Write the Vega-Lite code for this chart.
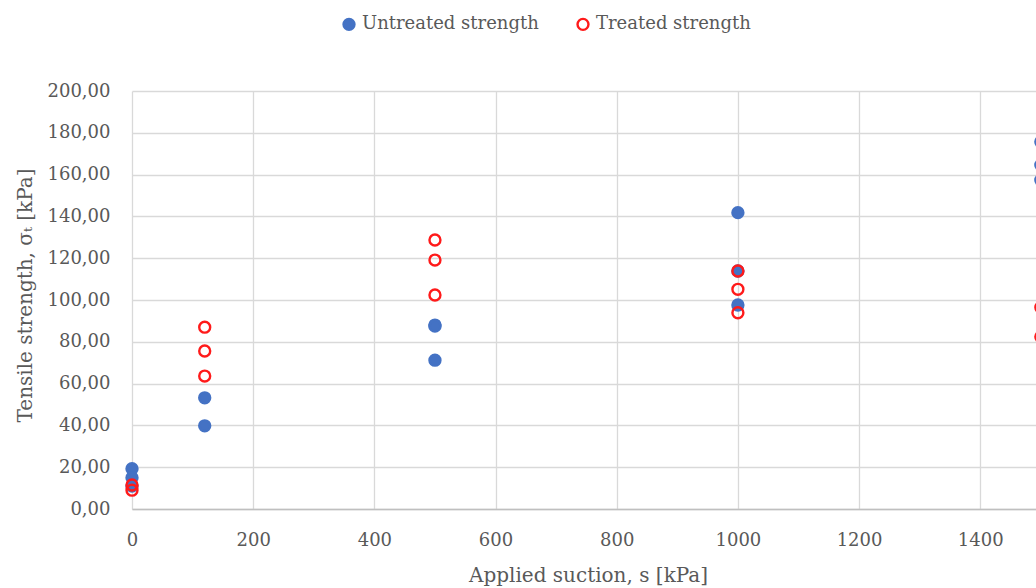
{
  "$schema": "https://vega.github.io/schema/vega-lite/v6.json",
  "width": 904,
  "height": 418,
  "autosize": {"type": "none"},
  "padding": {"left": 132, "top": 91, "right": 0, "bottom": 79},
  "background": "white",
  "config": {
    "locale": {"number": {"decimal": ",", "thousands": ".", "grouping": [3], "currency": ["", " €"]}},
    "view": {"stroke": null},
    "font": "DejaVu Serif",
    "axis": {
      "labelFont": "DejaVu Serif",
      "labelFontSize": 18,
      "labelColor": "#595959",
      "titleFont": "DejaVu Serif",
      "titleFontSize": 20,
      "titleFontWeight": "normal",
      "titleColor": "#595959",
      "gridColor": "#D9D9D9",
      "gridWidth": 1.3,
      "ticks": false,
      "tickSize": 0,
      "labelFlush": false
    }
  },
  "data": {
    "values": [
      {"suction": 0, "strength": 19.3, "series": "Untreated strength"},
      {"suction": 0, "strength": 15.0, "series": "Untreated strength"},
      {"suction": 0, "strength": 11.0, "series": "Untreated strength"},
      {"suction": 120, "strength": 53.2, "series": "Untreated strength"},
      {"suction": 120, "strength": 39.8, "series": "Untreated strength"},
      {"suction": 500, "strength": 88.0, "series": "Untreated strength"},
      {"suction": 500, "strength": 87.5, "series": "Untreated strength"},
      {"suction": 500, "strength": 71.2, "series": "Untreated strength"},
      {"suction": 1000, "strength": 141.8, "series": "Untreated strength"},
      {"suction": 1000, "strength": 113.9, "series": "Untreated strength"},
      {"suction": 1000, "strength": 97.6, "series": "Untreated strength"},
      {"suction": 1500, "strength": 175.7, "series": "Untreated strength"},
      {"suction": 1500, "strength": 164.6, "series": "Untreated strength"},
      {"suction": 1500, "strength": 157.4, "series": "Untreated strength"},
      {"suction": 0, "strength": 11.5, "series": "Treated strength"},
      {"suction": 0, "strength": 9.0, "series": "Treated strength"},
      {"suction": 120, "strength": 87.0, "series": "Treated strength"},
      {"suction": 120, "strength": 75.6, "series": "Treated strength"},
      {"suction": 120, "strength": 63.6, "series": "Treated strength"},
      {"suction": 500, "strength": 128.7, "series": "Treated strength"},
      {"suction": 500, "strength": 119.1, "series": "Treated strength"},
      {"suction": 500, "strength": 102.4, "series": "Treated strength"},
      {"suction": 1000, "strength": 113.9, "series": "Treated strength"},
      {"suction": 1000, "strength": 105.1, "series": "Treated strength"},
      {"suction": 1000, "strength": 93.9, "series": "Treated strength"},
      {"suction": 1500, "strength": 96.5, "series": "Treated strength"},
      {"suction": 1500, "strength": 82.4, "series": "Treated strength"}
    ]
  },
  "mark": {"type": "point", "shape": "circle", "size": 120, "strokeWidth": 2.4, "opacity": 1, "clip": false},
  "encoding": {
    "x": {
      "field": "suction",
      "type": "quantitative",
      "scale": {"domain": [0, 1492], "nice": false, "zero": true},
      "axis": {
        "values": [0, 200, 400, 600, 800, 1000, 1200, 1400],
        "format": "d",
        "title": "Applied suction, s [kPa]",
        "domainColor": "#BFBFBF",
        "domainWidth": 1.3,
        "labelPadding": 31,
        "labelBaseline": "middle",
        "titleX": 456,
        "titleY": 66,
        "titleAlign": "center",
        "titleBaseline": "middle",
        "titleAnchor": null
      }
    },
    "y": {
      "field": "strength",
      "type": "quantitative",
      "scale": {"domain": [0, 200], "nice": false},
      "axis": {
        "values": [0, 20, 40, 60, 80, 100, 120, 140, 160, 180, 200],
        "format": ".2f",
        "title": "Tensile strength, σₜ [kPa]",
        "domain": false,
        "labelPadding": 22,
        "titleAngle": -90,
        "titleX": -107,
        "titleY": 204,
        "titleAlign": "center",
        "titleBaseline": "middle"
      }
    },
    "stroke": {
      "field": "series",
      "type": "nominal",
      "scale": {"domain": ["Untreated strength", "Treated strength"], "range": ["#4472C4", "#FF1A1A"]},
      "legend": {
        "title": null,
        "orient": "none",
        "direction": "horizontal",
        "legendX": 208,
        "legendY": -76,
        "labelFont": "DejaVu Serif",
        "labelFontSize": 18,
        "labelColor": "#595959",
        "labelOffset": 4,
        "labelLimit": 0,
        "symbolSize": 120,
        "symbolStrokeWidth": 2.4,
        "columnPadding": 33
      }
    },
    "fill": {
      "field": "series",
      "type": "nominal",
      "scale": {"domain": ["Untreated strength", "Treated strength"], "range": ["#4472C4", "transparent"]},
      "legend": {
        "title": null,
        "orient": "none",
        "direction": "horizontal",
        "legendX": 208,
        "legendY": -76,
        "labelFont": "DejaVu Serif",
        "labelFontSize": 18,
        "labelColor": "#595959",
        "labelOffset": 4,
        "labelLimit": 0,
        "symbolSize": 120,
        "symbolStrokeWidth": 2.4,
        "columnPadding": 33
      }
    }
  }
}
